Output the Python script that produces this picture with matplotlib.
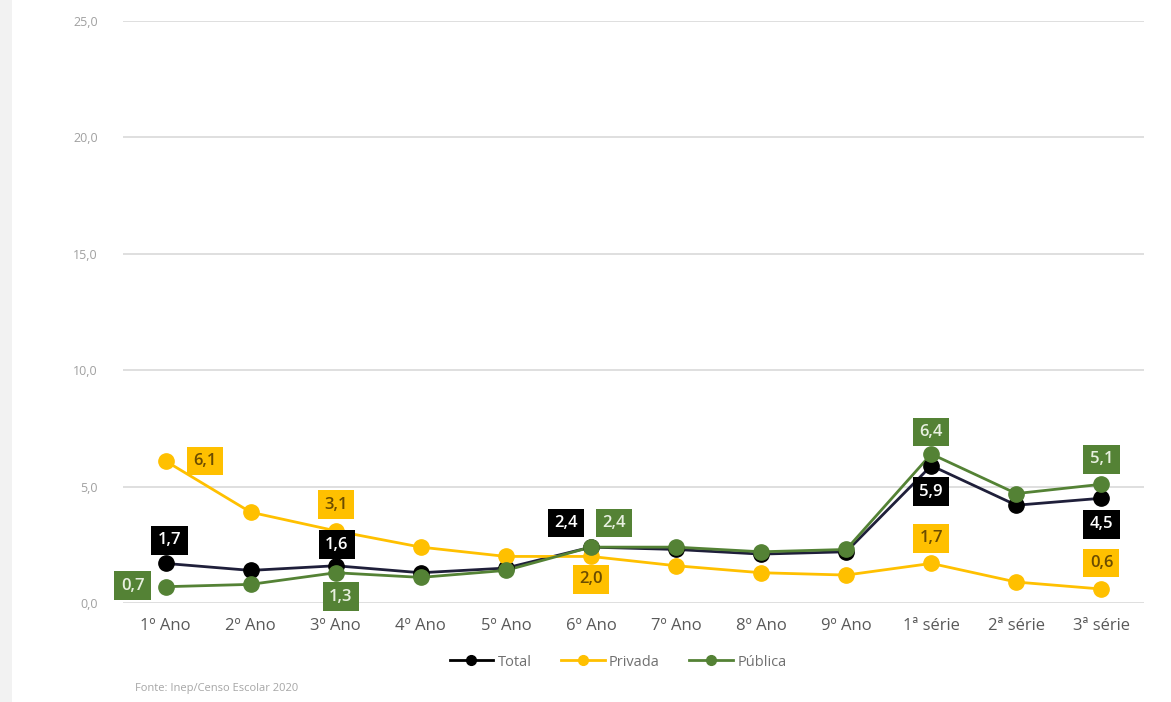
import matplotlib.pyplot as plt
from matplotlib.patches import Rectangle
from matplotlib.lines import Line2D

categorias = ["1º Ano", "2º Ano", "3º Ano", "4º Ano", "5º Ano", "6º Ano",
              "7º Ano", "8º Ano", "9º Ano", "1ª série", "2ª série", "3ª série"]
total = [1.7, 1.4, 1.6, 1.3, 1.5, 2.4, 2.3, 2.1, 2.2, 5.9, 4.2, 4.5]
privada = [6.1, 3.9, 3.1, 2.4, 2.0, 2.0, 1.6, 1.3, 1.2, 1.7, 0.9, 0.6]
publica = [0.7, 0.8, 1.3, 1.1, 1.4, 2.4, 2.4, 2.2, 2.3, 6.4, 4.7, 5.1]
y_ticks = [0, 5, 10, 15, 20, 25]

COR_TOTAL = "#000000"
COR_PRIV = "#FFC000"
COR_PUB = "#548235"

plt.rcParams["font.family"] = ["Open Sans", "DejaVu Sans"]

fig = plt.figure(figsize=(11.71, 7.02), dpi=100)
fig.patch.set_facecolor("white")
# faint strip on the left edge
fig.patches.append(Rectangle((0, 0), 12 / 1171, 1, transform=fig.transFigure,
                             facecolor="#F2F2F2", edgecolor="none", zorder=0))

ax = fig.add_axes([123 / 1171, 99 / 702, 1021 / 1171, 582 / 702])
ax.set_facecolor("none")

x = list(range(len(categorias)))
series = [
    ("Total", total, COR_TOTAL, "#1F1F3A"),
    ("Privada", privada, COR_PRIV, COR_PRIV),
    ("Pública", publica, COR_PUB, COR_PUB),
]
for nome, vals, cor, cor_linha in series:
    ax.plot(x, vals, color=cor_linha, lw=2, zorder=3)
    ax.plot(x, vals, ls="none", marker="o", ms=11, color=cor, zorder=4)

ax.set_xlim(-0.5, len(categorias) - 0.5)
ax.set_ylim(0, 25)
ax.set_yticks(y_ticks)
ax.set_yticklabels([f"{v:.1f}".replace(".", ",") for v in y_ticks])
ax.set_xticks(x)
ax.set_xticklabels(categorias)
ax.grid(axis="y", color="#D9D9D9", lw=1.2, zorder=0)
ax.set_axisbelow(True)
for s in ax.spines.values():
    s.set_visible(False)
ax.tick_params(axis="both", length=0)
ax.tick_params(axis="y", labelsize=9, labelcolor="#A0A0A0", pad=18)
ax.tick_params(axis="x", labelsize=12, labelcolor="#595959", pad=11)

# data labels: (series values, index, dx px, dy px, box colour, text colour)
rotulos = [
    (total, 0, 4, 23, COR_TOTAL, "white"),
    (privada, 0, 39, 0, COR_PRIV, "#6B4C00"),
    (publica, 0, -33, 1, COR_PUB, "#E8F0E0"),
    (total, 2, 1, 21, COR_TOTAL, "white"),
    (privada, 2, 0, 26, COR_PRIV, "#6B4C00"),
    (publica, 2, 5, -24, COR_PUB, "#E8F0E0"),
    (total, 5, -25, 24, COR_TOTAL, "white"),
    (publica, 5, 23, 24, COR_PUB, "#E8F0E0"),
    (privada, 5, 0, -23, COR_PRIV, "#6B4C00"),
    (publica, 9, 0, 22, COR_PUB, "#E8F0E0"),
    (total, 9, 0, -26, COR_TOTAL, "white"),
    (privada, 9, 0, 25, COR_PRIV, "#6B4C00"),
    (publica, 11, 0, 25, COR_PUB, "#E8F0E0"),
    (total, 11, 0, -26, COR_TOTAL, "white"),
    (privada, 11, 0, 26, COR_PRIV, "#6B4C00"),
]
for vals, i, dx, dy, fundo, cor_txt in rotulos:
    ax.annotate(f"{vals[i]:.1f}".replace(".", ","), xy=(i, vals[i]),
                xytext=(dx, dy), textcoords="offset pixels",
                ha="center", va="center", fontsize=12, fontweight="semibold",
                color=cor_txt, zorder=6,
                bbox=dict(boxstyle="square,pad=0.38", fc=fundo, ec="none"))

# legend
handles = [Line2D([], [], color=c, lw=2, marker="o", ms=7, markerfacecolor=c,
                  markeredgecolor=c) for _, _, c, _ in series]
fig.legend(handles, [s[0] for s in series], loc="center",
           bbox_to_anchor=(618 / 1171, 1 - 662 / 702), ncol=3, frameon=False,
           fontsize=10.5, labelcolor="#707070", handlelength=3, columnspacing=2,
           handletextpad=0.3)

fig.text(135 / 1171, 1 - 688 / 702, "Fonte: Inep/Censo Escolar 2020",
         fontsize=8, color="#A6A6A6", va="center", ha="left")

fig.savefig("out.png", dpi=100)
